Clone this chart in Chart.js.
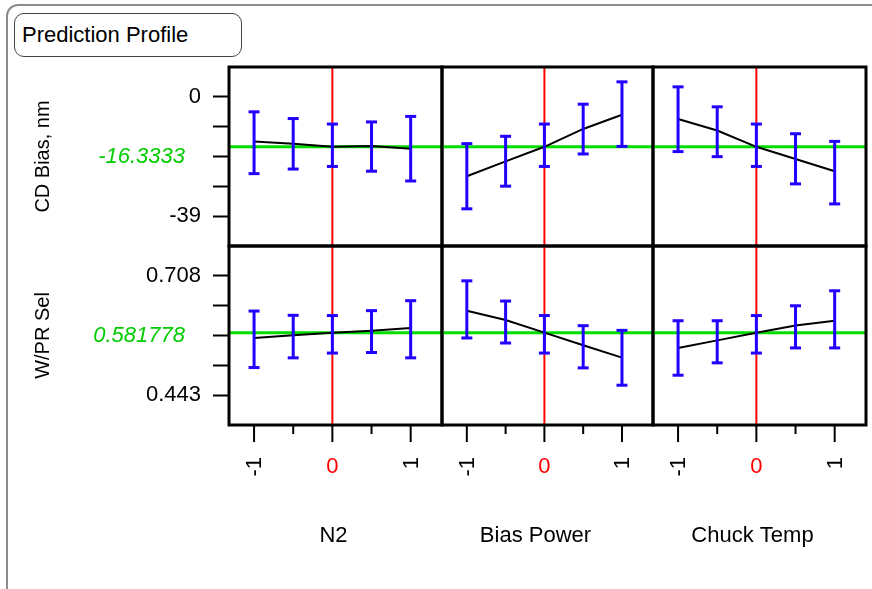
<!DOCTYPE html>
<html>
<head>
<meta charset="utf-8">
<script src="https://cdn.jsdelivr.net/npm/chart.js@4.4.0/dist/chart.umd.min.js"></script>
<style>
  body { margin: 0; background: #fff; width: 872px; height: 589px; overflow: hidden; position: relative;
         font-family: "Liberation Sans", Arial, sans-serif; }
  #frame { position: absolute; left: 6px; top: 4px; width: 900px; height: 600px;
           border: 2px solid #8c8c8c; border-radius: 12px; }
  #title { position: absolute; left: 14px; top: 13px; width: 219px; height: 42px; padding-left: 7px;
           border: 1px solid #444; border-radius: 10px; font-size: 22px; line-height: 42px; color: #000; }
  canvas { position: absolute; }
</style>
</head>
<body>
<div id="frame"></div>
<div id="title">Prediction Profile</div>
<script>
// ====================== DATA ======================
const factors = ["N2", "Bias Power", "Chuck Temp"];
const xLevels = [-1, -0.5, 0, 0.5, 1];
const xTickLabels = ["-1", "", "0", "", "1"];
const xCurrent = 0;
const xRange = [-1.32, 1.40];

// --- CD Bias, nm ---
const cdName = "CD Bias, nm";
const cdCurrent = -16.3333;
const cdRange = [-48.75, 9.75];
const cdTicks = [0, -9.75, -19.5, -29.25, -39];
const cdTickLabels = ["0", "", "", "", "-39"];

const cdN2Pred = [-14.6, -15.3, -16.3333, -16.1, -17.0];
const cdN2Lo   = [-25.1, -23.6, -22.75, -24.3, -27.5];
const cdN2Hi   = [-4.9, -7.1, -8.9, -8.2, -6.4];

const cdBiasPred = [-25.96, -21.1, -16.3333, -10.5, -5.87];
const cdBiasLo   = [-36.6, -29.2, -22.75, -18.67, -16.2];
const cdBiasHi   = [-15.3, -12.9, -8.9, -2.4, 4.9];

const cdTempPred = [-7.27, -11.0, -16.3333, -20.3, -24.34];
const cdTempLo   = [-17.9, -19.55, -22.75, -28.45, -35.0];
const cdTempHi   = [3.26, -3.26, -8.9, -12.06, -14.56];

// --- W/PR Sel ---
const selName = "W/PR Sel";
const selCurrent = 0.581778;
const selRange = [0.37675, 0.77425];
const selTicks = [0.708, 0.64175, 0.5755, 0.50925, 0.443];
const selTickLabels = ["0.708", "", "", "", "0.443"];

const selN2Pred = [0.5700, 0.5758, 0.581778, 0.5862, 0.5921];
const selN2Lo   = [0.5043, 0.5259, 0.5365, 0.5377, 0.5259];
const selN2Hi   = [0.6298, 0.6203, 0.6198, 0.6307, 0.6528];

const selBiasPred = [0.6305, 0.6099, 0.581778, 0.5537, 0.5264];
const selBiasLo   = [0.5700, 0.5588, 0.5365, 0.5036, 0.4651];
const selBiasHi   = [0.6969, 0.6520, 0.6198, 0.5973, 0.5869];

const selTempPred = [0.5479, 0.5647, 0.581778, 0.5979, 0.6083];
const selTempLo   = [0.4873, 0.5148, 0.5365, 0.5479, 0.5479];
const selTempHi   = [0.6083, 0.6083, 0.6198, 0.6415, 0.6748];

// ====================== LAYOUT / STYLE ======================
const FONT = '"Liberation Sans", Arial, sans-serif';
const BLUE = "#2200ff";
const GREEN = "#00dd00";
const GREEN_TEXT = "#00cc00";
const RED = "#ff0000";
const xEdges = [229, 442, 653, 866];
const yEdges = [67, 246, 425];
const PAD = 5;
const titleShift = [-2, -12, -7];

const rows = [
  { name: cdName, current: cdCurrent, range: cdRange, ticks: cdTicks, tickLabels: cdTickLabels,
    panels: [
      { pred: cdN2Pred, lo: cdN2Lo, hi: cdN2Hi },
      { pred: cdBiasPred, lo: cdBiasLo, hi: cdBiasHi },
      { pred: cdTempPred, lo: cdTempLo, hi: cdTempHi }
    ] },
  { name: selName, current: selCurrent, range: selRange, ticks: selTicks, tickLabels: selTickLabels,
    panels: [
      { pred: selN2Pred, lo: selN2Lo, hi: selN2Hi },
      { pred: selBiasPred, lo: selBiasLo, hi: selBiasHi },
      { pred: selTempPred, lo: selTempLo, hi: selTempHi }
    ] }
];

// ====================== PANEL DECOR PLUGIN ======================
const panelDecor = {
  id: "panelDecor",
  afterDatasetsDraw(chart) {
    const { ctx, chartArea: a } = chart;
    ctx.save();
    ctx.strokeStyle = "#000";
    ctx.lineWidth = 3;
    ctx.strokeRect(a.left, a.top, a.right - a.left, a.bottom - a.top);
    ctx.restore();
  },
  afterDraw(chart, args, o) {
    const { ctx, chartArea: a } = chart;
    const resp = rows[o.row];
    ctx.save();

    // current response value (left column)
    if (o.col === 0) {
      ctx.font = "italic 22px " + FONT;
      ctx.fillStyle = GREEN_TEXT;
      ctx.textAlign = "right";
      ctx.textBaseline = "middle";
      ctx.fillText(String(resp.current), a.left - 44, (a.top + a.bottom) / 2);
    }

    // x axis (bottom row)
    if (o.row === 1) {
      const xs = chart.scales.x;
      ctx.strokeStyle = "#000";
      ctx.lineWidth = 2;
      ctx.font = "22px " + FONT;
      xLevels.forEach((v, i) => {
        const px = xs.getPixelForValue(v);
        const lab = xTickLabels[i];
        ctx.beginPath();
        ctx.moveTo(px, a.bottom);
        ctx.lineTo(px, a.bottom + (lab !== "" ? 17 : 9));
        ctx.stroke();
        if (lab === "") return;
        if (v === xCurrent) {
          ctx.fillStyle = RED;
          ctx.textAlign = "center";
          ctx.textBaseline = "middle";
          ctx.fillText(lab, px, a.bottom + 42);
        } else {
          ctx.save();
          ctx.translate(px + 1, a.bottom + 32);
          ctx.rotate(-Math.PI / 2);
          ctx.fillStyle = "#000";
          ctx.textAlign = "right";
          ctx.textBaseline = "middle";
          ctx.fillText(lab, 0, 0);
          ctx.restore();
        }
      });
      ctx.fillStyle = "#000";
      ctx.textAlign = "center";
      ctx.textBaseline = "middle";
      ctx.fillText(factors[o.col], (a.left + a.right) / 2 + titleShift[o.col], a.bottom + 111);
    }
    ctx.restore();
  }
};

// ====================== BUILD ONE PANEL ======================
function makePanel(r, c) {
  const left = c === 0 ? 20 : xEdges[c] - PAD;
  const right = xEdges[c + 1] + PAD;
  const top = yEdges[r] - PAD;
  const bottom = r === 1 ? 589 : yEdges[r + 1] + PAD;

  const cv = document.createElement("canvas");
  cv.width = right - left;
  cv.height = bottom - top;
  cv.style.left = left + "px";
  cv.style.top = top + "px";
  document.body.appendChild(cv);

  const resp = rows[r];
  const p = resp.panels[c];

  // error bars: stems with gaps, caps as line points
  let stems = [];
  let caps = [];
  xLevels.forEach((x, i) => {
    stems.push({ x: x, y: p.lo[i] }, { x: x, y: p.hi[i] }, { x: x, y: null });
    caps.push({ x: x, y: p.lo[i] }, { x: x, y: p.hi[i] });
  });

  new Chart(cv, {
    type: "line",
    data: {
      datasets: [
        { data: stems, borderColor: BLUE, borderWidth: 3, pointRadius: 0, spanGaps: false, order: 1 },
        { data: caps, showLine: false, pointStyle: "line", pointRadius: 5.5, borderWidth: 3,
          pointBorderWidth: 3, borderColor: BLUE, pointBorderColor: BLUE, order: 1 },
        { data: xLevels.map((x, i) => ({ x: x, y: p.pred[i] })), borderColor: "#000", borderWidth: 2,
          pointRadius: 0, order: 2 },
        { data: [{ x: xRange[0], y: resp.current }, { x: xRange[1], y: resp.current }],
          borderColor: GREEN, borderWidth: 3, pointRadius: 0, order: 3 },
        { data: [{ x: xCurrent, y: resp.range[0] }, { x: xCurrent, y: resp.range[1] }],
          borderColor: RED, borderWidth: 2, pointRadius: 0, order: 4 }
      ]
    },
    options: {
      responsive: false,
      animation: false,
      events: [],
      layout: {
        autoPadding: false,
        padding: { left: c === 0 ? 0 : PAD, right: PAD, top: PAD, bottom: r === 1 ? 589 - yEdges[2] : PAD }
      },
      scales: {
        x: { type: "linear", min: xRange[0], max: xRange[1], display: false },
        y: {
          type: "linear", min: resp.range[0], max: resp.range[1], display: c === 0,
          afterBuildTicks: s => { s.ticks = resp.ticks.map(v => ({ value: v })); },
          afterFit: s => {
            s.width = c === 0 ? 209 : 0;
            s.paddingTop = 0; s.paddingBottom = 0; s.paddingLeft = 0; s.paddingRight = 0;
          },
          ticks: { autoSkip: false, padding: 12, color: "#000", font: { family: FONT, size: 22 },
                   callback: (v, i) => resp.tickLabels[i] },
          grid: { drawOnChartArea: false, drawTicks: true, tickLength: 16, tickWidth: 2, tickColor: "#000" },
          border: { display: false },
          title: { display: true, text: resp.name, color: "#000", font: { family: FONT, size: 20 },
                   padding: { top: 11, bottom: 0 } }
        }
      },
      plugins: {
        legend: { display: false },
        tooltip: { enabled: false },
        panelDecor: { row: r, col: c }
      }
    },
    plugins: [panelDecor]
  });
}

for (let r = 0; r < 2; r++) {
  for (let c = 0; c < 3; c++) makePanel(r, c);
}
</script>
</body>
</html>
